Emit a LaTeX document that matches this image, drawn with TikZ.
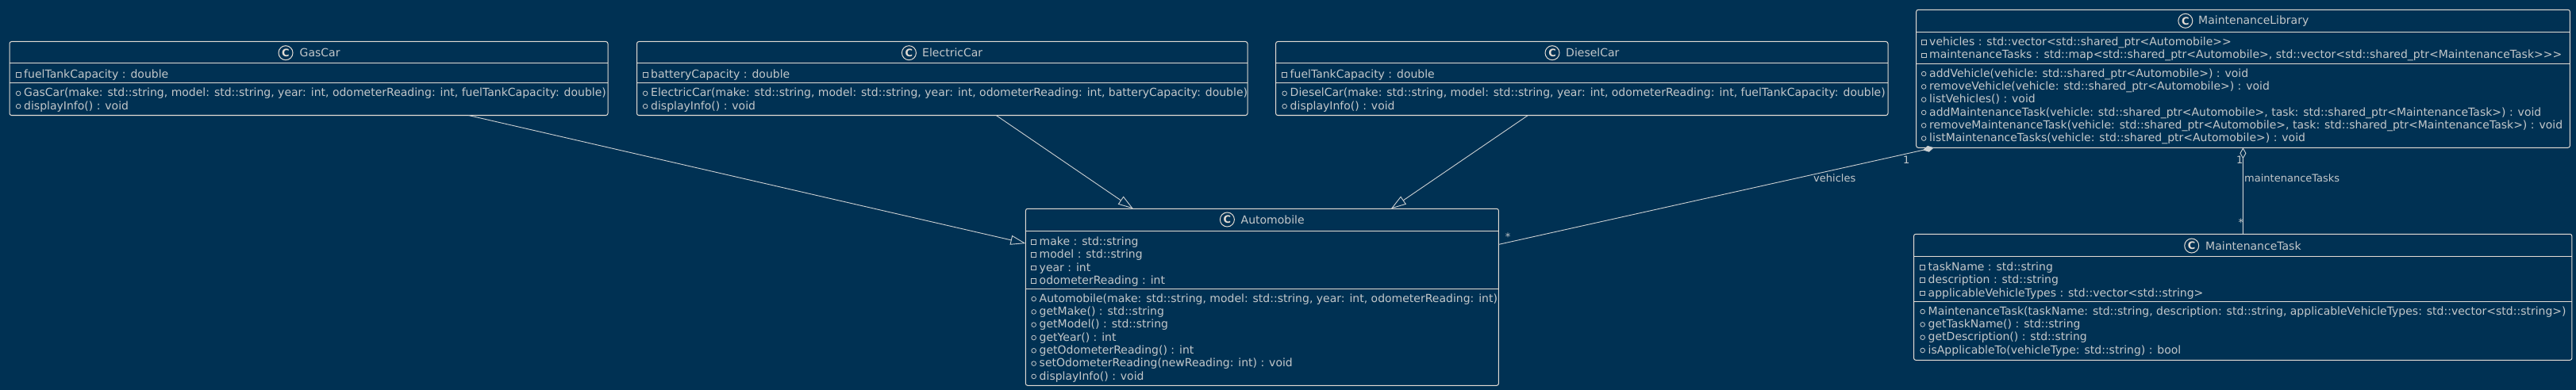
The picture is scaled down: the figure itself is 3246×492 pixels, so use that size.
\documentclass[tikz,border=0pt]{standalone}
\usepackage{fontspec}
\usepackage{xcolor}
\usetikzlibrary{arrows.meta}
\newfontfamily\umlfont{DejaVu Sans}
\definecolor{umlback}{HTML}{003153}
\definecolor{umlline}{HTML}{E4DCD4}
\definecolor{umllink}{HTML}{CCD0D2}
\definecolor{umltext}{HTML}{C4C8CA}
\tikzset{
  classbox/.style={draw=umlline,line width=1pt,rounded corners=2.5pt,inner sep=0,outer sep=0},
  classline/.style={draw=umlline,line width=1pt},
  classname/.style={text=umltext,inner sep=0,anchor=base west,font=\umlfont\fontsize{14}{16}\selectfont},
  spot/.style={draw=umlline,circle,line width=1pt,minimum size=18,inner sep=0,text=umlline,font=\umlfont\bfseries\fontsize{13}{13}\selectfont},
  member/.style={text=umltext,inner sep=0,anchor=base west,text height=8.4,text depth=0,font=\umlfont\fontsize{14}{16}\selectfont},
  privmark/.style={draw=umltext,rectangle,line width=.8pt,minimum size=5.7,inner sep=0,label distance=3.6},
  pubmark/.style={draw=umltext,circle,line width=.8pt,minimum size=5.7,inner sep=0,label distance=3.6},
  privattr/.style={member,label={[privmark]left:{}}},
  pubop/.style={member,label={[pubmark]left:{}}},
  link/.style={draw=umllink,line width=.9pt},
  linktext/.style={text=umltext,inner sep=0,anchor=base west,font=\umlfont\fontsize{13}{15}\selectfont},
}
\begin{document}
\begin{tikzpicture}[x=1pt,y=-1pt]
\useasboundingbox (0,0) rectangle (3246,492);
\fill[umlback] (0,0) rectangle (3246,492);
% boxes
\node[classbox,minimum width=754,minimum height=93] (gascar) at (389,99) {};
\node[classbox,minimum width=769.5,minimum height=93] (electriccar) at (1187.25,99) {};
\node[classbox,minimum width=771.4,minimum height=93] (dieselcar) at (1993.3,99) {};
\node[classbox,minimum width=596,minimum height=223] (automobile) at (1590.4,374.8) {};
\node[classbox,minimum width=823.7,minimum height=174] (library) at (2826.5,99.3) {};
\node[classbox,minimum width=829.3,minimum height=159] (task) at (2826.2,374.8) {};
% compartments
\draw[classline] (gascar.west |- 0,80) -- (gascar.east |- 0,80);
\draw[classline] (gascar.west |- 0,105) -- (gascar.east |- 0,105);
\draw[classline] (electriccar.west |- 0,80) -- (electriccar.east |- 0,80);
\draw[classline] (electriccar.west |- 0,105) -- (electriccar.east |- 0,105);
\draw[classline] (dieselcar.west |- 0,80) -- (dieselcar.east |- 0,80);
\draw[classline] (dieselcar.west |- 0,105) -- (dieselcar.east |- 0,105);
\draw[classline] (automobile.west |- 0,291.7) -- (automobile.east |- 0,291.7);
\draw[classline] (automobile.west |- 0,364.3) -- (automobile.east |- 0,364.3);
\draw[classline] (library.west |- 0,40.3) -- (library.east |- 0,40.3);
\draw[classline] (library.west |- 0,80.3) -- (library.east |- 0,80.3);
\draw[classline] (task.west |- 0,323.3) -- (task.east |- 0,323.3);
\draw[classline] (task.west |- 0,380.3) -- (task.east |- 0,380.3);
% titles
\node[spot] (gascarspot) at (360,66.7) {C};
\node[classname] (gascarname) at (377.5,71.5) {GasCar};
\node[spot] (electriccarspot) at (1145.4,66.7) {C};
\node[classname] (electriccarname) at (1162,71.5) {ElectricCar};
\node[spot] (dieselcarspot) at (1956,66.7) {C};
\node[classname] (dieselcarname) at (1973,71.5) {DieselCar};
\node[spot] (automobilespot) at (1546.4,277) {C};
\node[classname] (automobilename) at (1563.5,282) {Automobile};
\node[spot] (libraryspot) at (2753.8,26.3) {C};
\node[classname] (libraryname) at (2770,31) {MaintenanceLibrary};
\node[spot] (taskspot) at (2761.7,310) {C};
\node[classname] (taskname) at (2779,315) {MaintenanceTask};
% gas car
\node[privattr] (gascar1) at (30,98.7) {fuelTankCapacity : double};
\node[pubop] (gascar2) at (30,122) {GasCar(make: std::string, model: std::string, year: int, odometerReading: int, fuelTankCapacity: double)};
\node[pubop] (gascar3) at (30,138.3) {displayInfo() : void};
% electric car
\node[privattr] (electriccar1) at (820,98.7) {batteryCapacity : double};
\node[pubop] (electriccar2) at (820,122) {ElectricCar(make: std::string, model: std::string, year: int, odometerReading: int, batteryCapacity: double)};
\node[pubop] (electriccar3) at (820,138.3) {displayInfo() : void};
% diesel car
\node[privattr] (dieselcar1) at (1625.5,98.7) {fuelTankCapacity : double};
\node[pubop] (dieselcar2) at (1625.5,122) {DieselCar(make: std::string, model: std::string, year: int, odometerReading: int, fuelTankCapacity: double)};
\node[pubop] (dieselcar3) at (1625.5,138.3) {displayInfo() : void};
% automobile
\node[privattr] (automobile1) at (1309.5,309.4) {make : std::string};
\node[privattr] (automobile2) at (1309.5,325.7) {model : std::string};
\node[privattr] (automobile3) at (1309.5,342) {year : int};
\node[privattr] (automobile4) at (1309.5,358.3) {odometerReading : int};
\node[pubop] (automobile5) at (1309.5,381.3) {Automobile(make: std::string, model: std::string, year: int, odometerReading: int)};
\node[pubop] (automobile6) at (1309.5,397.6) {getMake() : std::string};
\node[pubop] (automobile7) at (1309.5,413.9) {getModel() : std::string};
\node[pubop] (automobile8) at (1309.5,430.2) {getYear() : int};
\node[pubop] (automobile9) at (1309.5,446.5) {getOdometerReading() : int};
\node[pubop] (automobile10) at (1309.5,462.8) {setOdometerReading(newReading: int) : void};
\node[pubop] (automobile11) at (1309.5,479.1) {displayInfo() : void};
% library
\node[privattr] (library1) at (2431,57.7) {vehicles : std::vector<std::shared\_ptr<Automobile>{}>};
\node[privattr] (library2) at (2431,74) {maintenanceTasks : std::map<std::shared\_ptr<Automobile>, std::vector<std::shared\_ptr<MaintenanceTask>{}>{}>};
\node[pubop] (library3) at (2431,97.3) {addVehicle(vehicle: std::shared\_ptr<Automobile>) : void};
\node[pubop] (library4) at (2431,113.6) {removeVehicle(vehicle: std::shared\_ptr<Automobile>) : void};
\node[pubop] (library5) at (2431,129.9) {listVehicles() : void};
\node[pubop] (library6) at (2431,146.2) {addMaintenanceTask(vehicle: std::shared\_ptr<Automobile>, task: std::shared\_ptr<MaintenanceTask>) : void};
\node[pubop] (library7) at (2431,162.5) {removeMaintenanceTask(vehicle: std::shared\_ptr<Automobile>, task: std::shared\_ptr<MaintenanceTask>) : void};
\node[pubop] (library8) at (2431,178.8) {listMaintenanceTasks(vehicle: std::shared\_ptr<Automobile>) : void};
% task
\node[privattr] (task1) at (2429.5,341.4) {taskName : std::string};
\node[privattr] (task2) at (2429.5,357.7) {description : std::string};
\node[privattr] (task3) at (2429.5,374) {applicableVehicleTypes : std::vector<std::string>};
\node[pubop] (task4) at (2429.5,397.3) {MaintenanceTask(taskName: std::string, description: std::string, applicableVehicleTypes: std::vector<std::string>)};
\node[pubop] (task5) at (2429.5,413.6) {getTaskName() : std::string};
\node[pubop] (task6) at (2429.5,429.9) {getDescription() : std::string};
\node[pubop] (task7) at (2429.5,446.2) {isApplicableTo(vehicleType: std::string) : bool};
% links
\draw[link,-{Triangle[open,length=19pt,width=12pt]}] (gascar) -- (automobile);
\draw[link,-{Triangle[open,length=19pt,width=12pt]}] (electriccar) -- (automobile);
\draw[link,-{Triangle[open,length=19pt,width=12pt]}] (dieselcar) -- (automobile);
\draw[link,{Diamond[length=14pt,width=8pt,fill=umllink]}-] (library) -- (automobile);
\draw[link,{Diamond[open,length=14pt,width=8pt]}-] (library) -- (task);
% link texts
\node[linktext] (vehicleslabel) at (2285,229.5) {vehicles};
\node[linktext] (vehiclesone) at (2398,206.5) {1};
\node[linktext] (vehiclesmany) at (1896.7,303) {*};
\node[linktext] (taskslabel) at (2828,229.5) {maintenanceTasks};
\node[linktext] (tasksone) at (2818,206.5) {1};
\node[linktext] (tasksmany) at (2820.5,285) {*};
\end{tikzpicture}
\end{document}
